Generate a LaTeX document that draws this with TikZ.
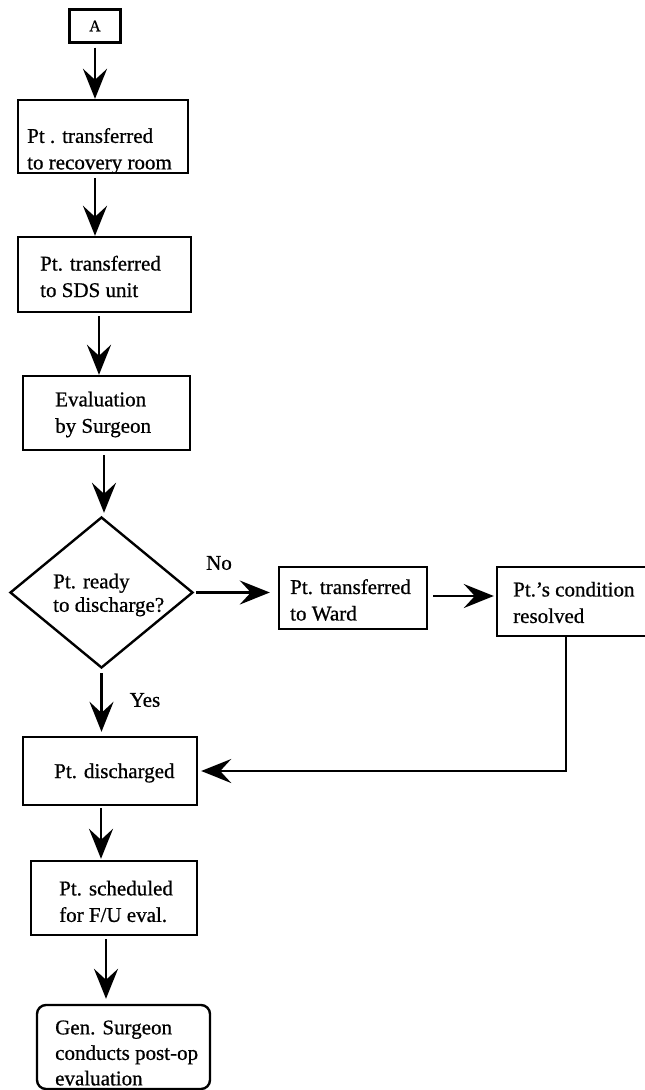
\documentclass[tikz,border=0pt]{standalone}
\usepackage{fontspec}
\setmainfont{Liberation Serif}[FakeBold=0.7]
\usetikzlibrary{arrows.meta,shapes.geometric}
\begin{document}
\begin{tikzpicture}[x=1bp,y=-1bp,
  box/.style={draw,line width=2.4bp,inner sep=0pt},
  txt/.style={align=left,inner sep=0pt,anchor=west,font=\fontsize{21bp}{26.5bp}\selectfont},
  lbl/.style={inner sep=0pt,font=\fontsize{21bp}{26.5bp}\selectfont},
  arr/.style={line width=2.4bp,-{Stealth[length=30bp,width=24bp,inset=11bp]}}]
\fill[white] (0,0) rectangle (645,1090);
\useasboundingbox (0,0) rectangle (645,1090);
% boxes
\node[box,minimum width=51bp,minimum height=33bp,font=\fontsize{16bp}{18bp}\selectfont] (A) at (95,26) {A};
\node[box,minimum width=170bp,minimum height=73bp] (b1) at (103,136.5) {};
\node[box,minimum width=173bp,minimum height=75bp] (b2) at (104.5,274.5) {};
\node[box,minimum width=167bp,minimum height=74bp] (b3) at (106.5,413) {};
\node[box,shape=diamond,minimum width=183bp,minimum height=151bp] (d) at (101.5,592.5) {};
\node[box,minimum width=148bp,minimum height=62bp] (W) at (353,598) {};
\node[box,minimum width=158bp,minimum height=69bp] (R) at (576,601.5) {};
\node[box,minimum width=174bp,minimum height=68bp] (D) at (110,771) {};
\node[box,minimum width=166bp,minimum height=74bp] (S) at (114,898) {};
\node[box,rounded corners=9bp,minimum width=173bp,minimum height=84bp] (F) at (123.5,1047) {};
% texts
\node[txt] (b1t) at (27,151) {Pt . transferred\\to recovery room};
\node[txt] (b2t) at (40,276.5) {Pt. transferred\\to SDS unit};
\node[txt] (b3t) at (55,414.5) {Evaluation\\by Surgeon};
\node[txt,font=\fontsize{21bp}{23.5bp}\selectfont] (dt) at (53,595) {Pt. ready\\to discharge?};
\node[txt] (Wt) at (290,600) {Pt. transferred\\to Ward};
\node[txt] (Rt) at (513,602.5) {Pt.'s condition\\resolved};
\node[txt] (Dt) at (54,773) {Pt. discharged};
\node[txt] (St) at (59,901.5) {Pt. scheduled\\for F/U eval.};
\node[txt,font=\fontsize{21bp}{25.5bp}\selectfont] (Ft) at (55,1053) {Gen. Surgeon\\conducts post-op\\evaluation};
\node[lbl] (no) at (219,563) {No};
\node[lbl] (yes) at (145,700) {Yes};
% connector x positions
\coordinate (x1) at (95,0);
\coordinate (x2) at (99,0);
\coordinate (x3) at (104,0);
\coordinate (x4) at (101,0);
\coordinate (x5) at (106,0);
\coordinate (xr) at (566,0);
% connectors
\draw[arr,shorten <=4bp] (A.south) -- (A.south |- b1.north);
\draw[arr,shorten <=4bp] (x1 |- b1.south) -- (x1 |- b2.north);
\draw[arr,shorten <=3bp] (x2 |- b2.south) -- (x2 |- b3.north);
\draw[arr,shorten <=4bp,shorten >=3bp] (x3 |- b3.south) -- (x3 |- d.north);
\draw[arr,shorten <=2bp,shorten >=8bp] (d.east) -- (d.east -| W.west);
\draw[arr,shorten <=5bp,shorten >=2bp] (W.east |- 0,596) -- (R.west |- 0,596);
\draw[arr,shorten <=4bp,shorten >=4bp] (d.south) -- (d.south |- D.north);
\draw[arr,shorten >=3bp] (xr |- R.south) |- (D.east);
\draw[arr,shorten <=2bp,shorten >=1bp] (x4 |- D.south) -- (x4 |- S.north);
\draw[arr,shorten <=3bp,shorten >=5bp] (x5 |- S.south) -- (x5 |- F.north);
\end{tikzpicture}
\end{document}
